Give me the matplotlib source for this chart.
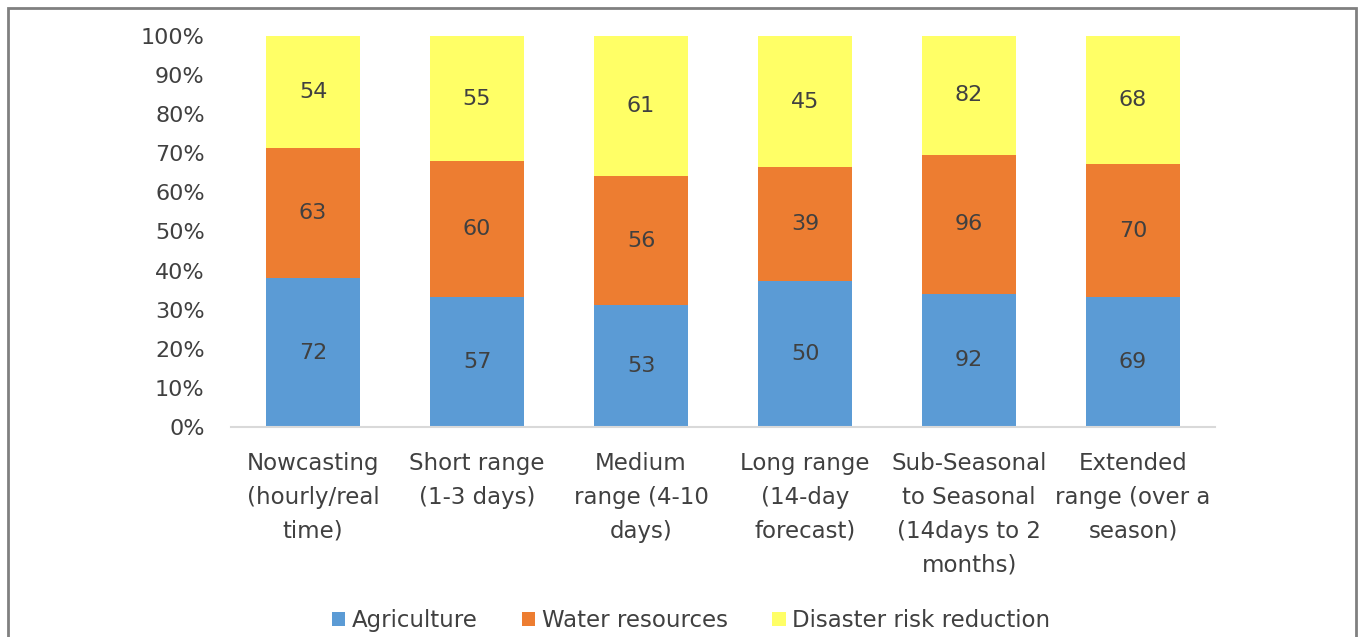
import numpy as np
import matplotlib.pyplot as plt
from matplotlib.patches import Rectangle

# forecast ranges and survey counts per sector
categories = ["Nowcasting\n(hourly/real\ntime)", "Short range\n(1-3 days)",
              "Medium\nrange (4-10\ndays)", "Long range\n(14-day\nforecast)",
              "Sub-Seasonal\nto Seasonal\n(14days to 2\nmonths)",
              "Extended\nrange (over a\nseason)"]
agriculture = [72, 57, 53, 50, 92, 69]
water = [63, 60, 56, 39, 96, 70]
disaster = [54, 55, 61, 45, 82, 68]

series = [("Agriculture", agriculture, "#5B9BD5"),
          ("Water resources", water, "#ED7D31"),
          ("Disaster risk reduction", disaster, "#FFFF66")]

plt.rcParams['font.family'] = ['DejaVu Sans']
txt = "#404040"

fig = plt.figure(figsize=(13.63, 6.37), dpi=100)
ax = fig.add_axes([0.1695, 0.3297, 0.722, 0.6138])

x = np.arange(len(categories))
totals = np.array(agriculture) + np.array(water) + np.array(disaster)
bottom = np.zeros(len(categories))
for name, vals, col in series:
    frac = np.array(vals) / totals * 100
    ax.bar(x, frac, 0.57, bottom=bottom, color=col, label=name)
    for xi, b, f, v in zip(x, bottom, frac, vals):
        ax.text(xi, b + f / 2, str(v), ha="center", va="center",
                fontsize=16, color=txt)
    bottom += frac

ax.set_xlim(-0.5, len(categories) - 0.5)
ax.set_ylim(0, 100)
ax.set_yticks(np.arange(0, 101, 10))
ax.set_yticklabels([f"{t}%" for t in range(0, 101, 10)])
ax.set_xticks(x)
ax.set_xticklabels(categories, linespacing=1.6)
ax.tick_params(axis="y", length=0, labelsize=16, labelcolor=txt, pad=19)
ax.tick_params(axis="x", length=0, labelsize=16.5, labelcolor=txt, pad=18)
for s in ["top", "right", "left"]:
    ax.spines[s].set_visible(False)
ax.spines["bottom"].set_color("#D9D9D9")
ax.spines["bottom"].set_linewidth(1.5)

fig.legend(loc="center", bbox_to_anchor=(0.507, 0.026), ncol=3, frameon=False,
           fontsize=16.5, handlelength=0.6, handleheight=0.6, columnspacing=1.9,
           handletextpad=0.3, labelcolor=txt)

# outer frame, open at the bottom edge
fig.patches.append(Rectangle((8 / 1363, -0.1), 1348 / 1363, 1.1 - 8 / 637,
                             transform=fig.transFigure, fill=False,
                             edgecolor="#808080", linewidth=2))

fig.savefig("out.png", dpi=100)
